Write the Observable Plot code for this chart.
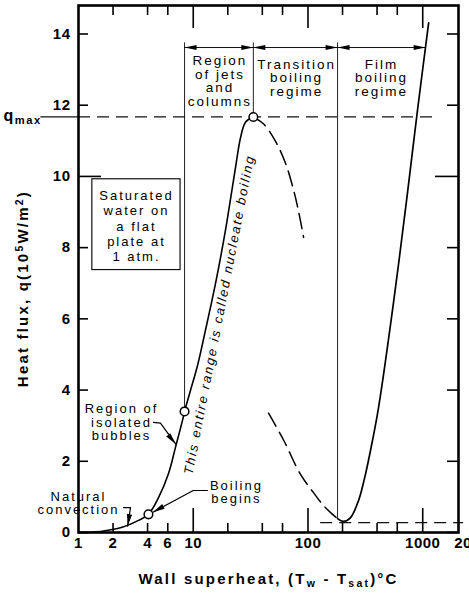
<!DOCTYPE html>
<html><head><meta charset="utf-8">
<script src="https://cdn.jsdelivr.net/npm/d3@7"></script>
<script src="https://cdn.jsdelivr.net/npm/@observablehq/plot@0.6"></script>
<style>
body{margin:0;background:#fff}
svg{display:block}
[aria-description="lab"]{letter-spacing:2px}
[aria-description="nucl"]{letter-spacing:1.9px}
[aria-description="axtitle"]{letter-spacing:2.2px}
[aria-description="ytitle"]{letter-spacing:2.2px}
[aria-description="qmax"]{letter-spacing:1.5px}
[aria-description="ticklab"]{letter-spacing:0.5px}
</style>
</head><body><div id="chart"></div>
<script>
// ---- data (wall superheat in °C, heat flux in 1e5 W/m2) ----
const nucleateT = [1, 1.55, 2.19, 2.67, 3.33, 4.07, 4.98, 6.09, 7.0, 8.06, 8.4, 9.46, 10.9, 12.5, 14.4, 16.6, 19.1, 21.6, 23.9, 25.8, 28.6, 33.4];
const nucleateQ = [0, 0.03, 0.11, 0.2, 0.34, 0.51, 0.98, 1.66, 2.39, 3.15, 3.4, 3.99, 4.69, 5.54, 6.44, 7.42, 8.49, 9.56, 10.46, 11.08, 11.53, 11.67];
const transUpperT = [33.4, 41.1, 52.0, 63.7, 75.0, 83.0, 91.6];
const transUpperQ = [11.67, 11.47, 10.99, 10.37, 9.61, 9.0, 8.29];
const transLowerT = [45.3, 61.4, 86.1, 111.6, 136.4, 163.6, 181];
const transLowerQ = [3.35, 2.59, 1.63, 1.12, 0.76, 0.51, 0.39];
const filmT = [181, 204, 235, 276, 311, 351, 412, 557, 738, 903, 1126];
const filmQ = [0.39, 0.31, 0.42, 0.90, 1.52, 2.31, 3.51, 6.47, 9.56, 11.89, 14.31];

const markedT = [4.07, 8.4, 33.4];          // open circles
const markedQ = [0.51, 3.4, 11.67];
const qmax = 11.67, qmaxLineEnd = 1376, qmaxLeaderStart = 0.47;
const qmin = 0.28, qminLine = [129, 2270];

const regionT = [8.4, 33.4, 181];            // vertical boundaries
const regionBottomQ = [3.4, 11.67, 0.39];
const regionTopQ = 13.75;
const arrowQ = 13.62;
const arrowEnds = [[8.4, 33.4], [33.4, 181], [181, 1060]];

const regionLabels = ["Region\nof jets\nand\ncolumns", "Transition\nboiling\nregime", "Film\nboiling\nregime"];
const regionLabelT = [17.1, 79.6, 437];
const regionLabelQ = [12.68, 12.76, 12.76];

const boxT = [1.32, 7.75], boxQ = [7.37, 9.92];
const boxText = "Saturated\nwater on\na flat\nplate at\n1 atm.";
const boxTextT = 3.2, boxTextQ = 8.62;

const noteTexts = ["Natural\nconvection", "Region of\nisolated\nbubbles", "Boiling\nbegins"];
const noteT = [1.0, 2.37, 23.8];
const noteQ = [0.83, 3.09, 1.12];
const leaders = [
  [[2.47, 0.70], [2.84, 0.70], [2.68, 0.18]],
  [[4.5, 3.09], [5.18, 3.07], [7.05, 2.48]],
  [[13.3, 1.18], [10.0, 1.18], [4.45, 0.57]]
];
const leaderHeadAngle = [99, 51, 151];

const nucleateNote = "This entire range is called nucleate boiling";
const nucleateNoteT = 16.9, nucleateNoteQ = 6.12, nucleateNoteAngle = -79;

const xMinorTicks = [2, 4, 6, 20, 40, 60, 200, 400, 600];
const xMajorTicks = [10, 100, 1000];
const xTickLabels = [1, 2, 4, 6, 10, 100, 1000];
const xLastLabel = 2000;
const yTicks = [0, 2, 4, 6, 8, 12, 14];
const yLongTicks = [10];
const yTickLabels = [0, 2, 4, 6, 8, 10, 12, 14];

const xTitle = "Wall superheat, (T_{w} - T_{sat})°C";
const yTitle = "Heat flux, q(10^{5}W/m^{2})";
const qmaxLabel = "q_{max}";

// ---- layout ----
const W = 469, H = 595, mL = 78, mR = 11, mT = 5, mB = 63;
const FH = H - mT - mB, FW = W - mL - mR;
const FONT = "'Liberation Sans', Arial, Helvetica, sans-serif";

const pts = (xs, ys) => xs.map((x, i) => ({x, y: ys[i]}));
const headSymbol = {draw(ctx) { ctx.moveTo(0, 0); ctx.lineTo(-12, -2.6); ctx.lineTo(-12, 2.6); ctx.closePath(); }};

const regionHeads = arrowEnds.flatMap(([a, b]) => [{x: a, y: arrowQ, r: 180}, {x: b, y: arrowQ, r: 0}]);
const leaderPts = leaders.flatMap((l, i) => l.map(([x, y]) => ({x, y, k: i})));
const leaderHeads = leaders.map((l, i) => ({x: l[2][0], y: l[2][1], r: leaderHeadAngle[i]}));

const chart = Plot.plot({
  width: W, height: H,
  marginLeft: mL, marginRight: mR, marginTop: mT, marginBottom: mB,
  style: {fontFamily: FONT, background: "white", overflow: "visible", color: "black"},
  x: {type: "log", domain: [1, 2050], axis: null},
  y: {domain: [0, 14.8], axis: null},
  marks: [
    // boundaries
    Plot.ruleX(regionT.map((t, i) => ({t, b: regionBottomQ[i]})), {x: "t", y1: "b", y2: regionTopQ, stroke: "#222", strokeWidth: 1}),
    Plot.ruleY([arrowQ], {x1: arrowEnds[0][0], x2: arrowEnds[2][1], stroke: "#111", strokeWidth: 1}),
    Plot.dot(regionHeads, {x: "x", y: "y", rotate: "r", symbol: headSymbol, fill: "black", stroke: "none"}),
    // q max / q min lines
    Plot.ruleY([qmax], {x1: 1, x2: qmaxLineEnd, stroke: "#111", strokeWidth: 1.3, strokeDasharray: "12,7"}),
    Plot.ruleY([qmax], {x1: qmaxLeaderStart, x2: 1, stroke: "#111", strokeWidth: 1.3}),
    Plot.ruleY([qmin], {x1: qminLine[0], x2: qminLine[1], stroke: "#111", strokeWidth: 1.3, strokeDasharray: "12,7"}),
    // box
    Plot.rect([0], {x1: boxT[0], x2: boxT[1], y1: boxQ[0], y2: boxQ[1], fill: "white", stroke: "#111", strokeWidth: 1.2}),
    Plot.text([boxText], {x: boxTextT, y: boxTextQ, fontSize: 13, lineHeight: 1.19, ariaDescription: "lab"}),
    // curves
    Plot.line(pts(nucleateT, nucleateQ), {x: "x", y: "y", curve: "catmull-rom", stroke: "black", strokeWidth: 1.6}),
    Plot.line(pts(transUpperT, transUpperQ), {x: "x", y: "y", curve: "catmull-rom", stroke: "black", strokeWidth: 1.5, strokeDasharray: "15,7"}),
    Plot.line(pts(transLowerT, transLowerQ), {x: "x", y: "y", curve: "catmull-rom", stroke: "black", strokeWidth: 1.5, strokeDasharray: "15,7"}),
    Plot.line(pts(filmT, filmQ), {x: "x", y: "y", curve: "catmull-rom", stroke: "black", strokeWidth: 1.7}),
    // leaders
    Plot.line(leaderPts, {x: "x", y: "y", z: "k", stroke: "black", strokeWidth: 1.2}),
    Plot.dot(leaderHeads, {x: "x", y: "y", rotate: "r", symbol: headSymbol, fill: "black", stroke: "none"}),
    Plot.dot(pts(markedT, markedQ), {x: "x", y: "y", r: 4.3, fill: "white", stroke: "black", strokeWidth: 1.5}),
    // labels
    Plot.text(regionLabels, {x: (d, i) => regionLabelT[i], y: (d, i) => regionLabelQ[i], text: d => d, fontSize: 13.5, lineHeight: 1.0, ariaDescription: "lab"}),
    Plot.text(noteTexts, {x: (d, i) => noteT[i], y: (d, i) => noteQ[i], text: d => d, fontSize: 13, lineHeight: 1.02, ariaDescription: "lab"}),
    Plot.text([nucleateNote], {x: nucleateNoteT, y: nucleateNoteQ, rotate: nucleateNoteAngle, fontSize: 13, fontStyle: "italic", ariaDescription: "nucl"}),
    // ticks
    Plot.ruleX(xMinorTicks, {x: d => d, insetTop: FH - 9, strokeWidth: 1.6}),
    Plot.ruleX(xMajorTicks, {x: d => d, insetTop: FH - 24, strokeWidth: 1.6}),
    Plot.ruleX(xMinorTicks, {x: d => d, insetBottom: FH - 10, strokeWidth: 1.6}),
    Plot.ruleX(xMajorTicks, {x: d => d, insetBottom: FH - 23, strokeWidth: 1.6}),
    Plot.ruleY(yTicks, {y: d => d, insetRight: FW - 10, strokeWidth: 1.6}),
    Plot.ruleY(yLongTicks, {y: d => d, insetRight: FW - 23, strokeWidth: 1.6}),
    Plot.ruleY(yTicks, {y: d => d, insetLeft: FW - 11, strokeWidth: 1.6}),
    Plot.ruleY(yLongTicks, {y: d => d, insetLeft: FW - 23, strokeWidth: 1.6}),
    Plot.frame({stroke: "black", strokeWidth: 2.6}),
    // tick labels
    Plot.text(xTickLabels, {x: d => d, text: d => String(d), frameAnchor: "bottom", dy: 15, fontSize: 15, fontWeight: "bold", ariaDescription: "ticklab"}),
    Plot.text([xLastLabel], {x: d => d, text: d => String(d), frameAnchor: "bottom", dy: 15, dx: -3, textAnchor: "start", fontSize: 15, fontWeight: "bold", ariaDescription: "ticklab"}),
    Plot.text(yTickLabels, {y: d => d, text: d => String(d), frameAnchor: "left", dx: -8, textAnchor: "end", fontSize: 15, fontWeight: "bold", ariaDescription: "ticklab"}),
    Plot.text([qmaxLabel], {y: qmax, frameAnchor: "left", dx: -75, dy: -1, textAnchor: "start", fontSize: 16, fontWeight: "bold", ariaDescription: "qmax"}),
    // axis titles
    Plot.text([xTitle], {frameAnchor: "bottom", dy: 51, textAnchor: "middle", fontSize: 15, fontWeight: "bold", ariaDescription: "axtitle"}),
    Plot.text([yTitle], {y: 6.85, frameAnchor: "left", dx: -55, textAnchor: "middle", rotate: -90, fontSize: 15, fontWeight: "bold", ariaDescription: "ytitle"})
  ]
});

// sub/superscripts as real tspans
const NS = "http://www.w3.org/2000/svg";
chart.querySelectorAll("text").forEach(t => {
  const s = t.textContent;
  if (t.children.length || !/[_^]\{/.test(s)) return;
  t.textContent = "";
  const re = /([_^])\{([^}]*)\}/g; let last = 0, m;
  const add = (str, kind) => {
    const ts = document.createElementNS(NS, "tspan");
    ts.textContent = str;
    if (kind) {
      ts.setAttribute("font-size", "70%");
      ts.setAttribute("baseline-shift", kind === "_" ? "-28%" : "45%");
    }
    t.appendChild(ts);
  };
  while ((m = re.exec(s))) {
    if (m.index > last) add(s.slice(last, m.index));
    add(m[2], m[1]);
    last = re.lastIndex;
  }
  if (last < s.length) add(s.slice(last));
});
document.getElementById("chart").appendChild(chart);
</script>
</body></html>
